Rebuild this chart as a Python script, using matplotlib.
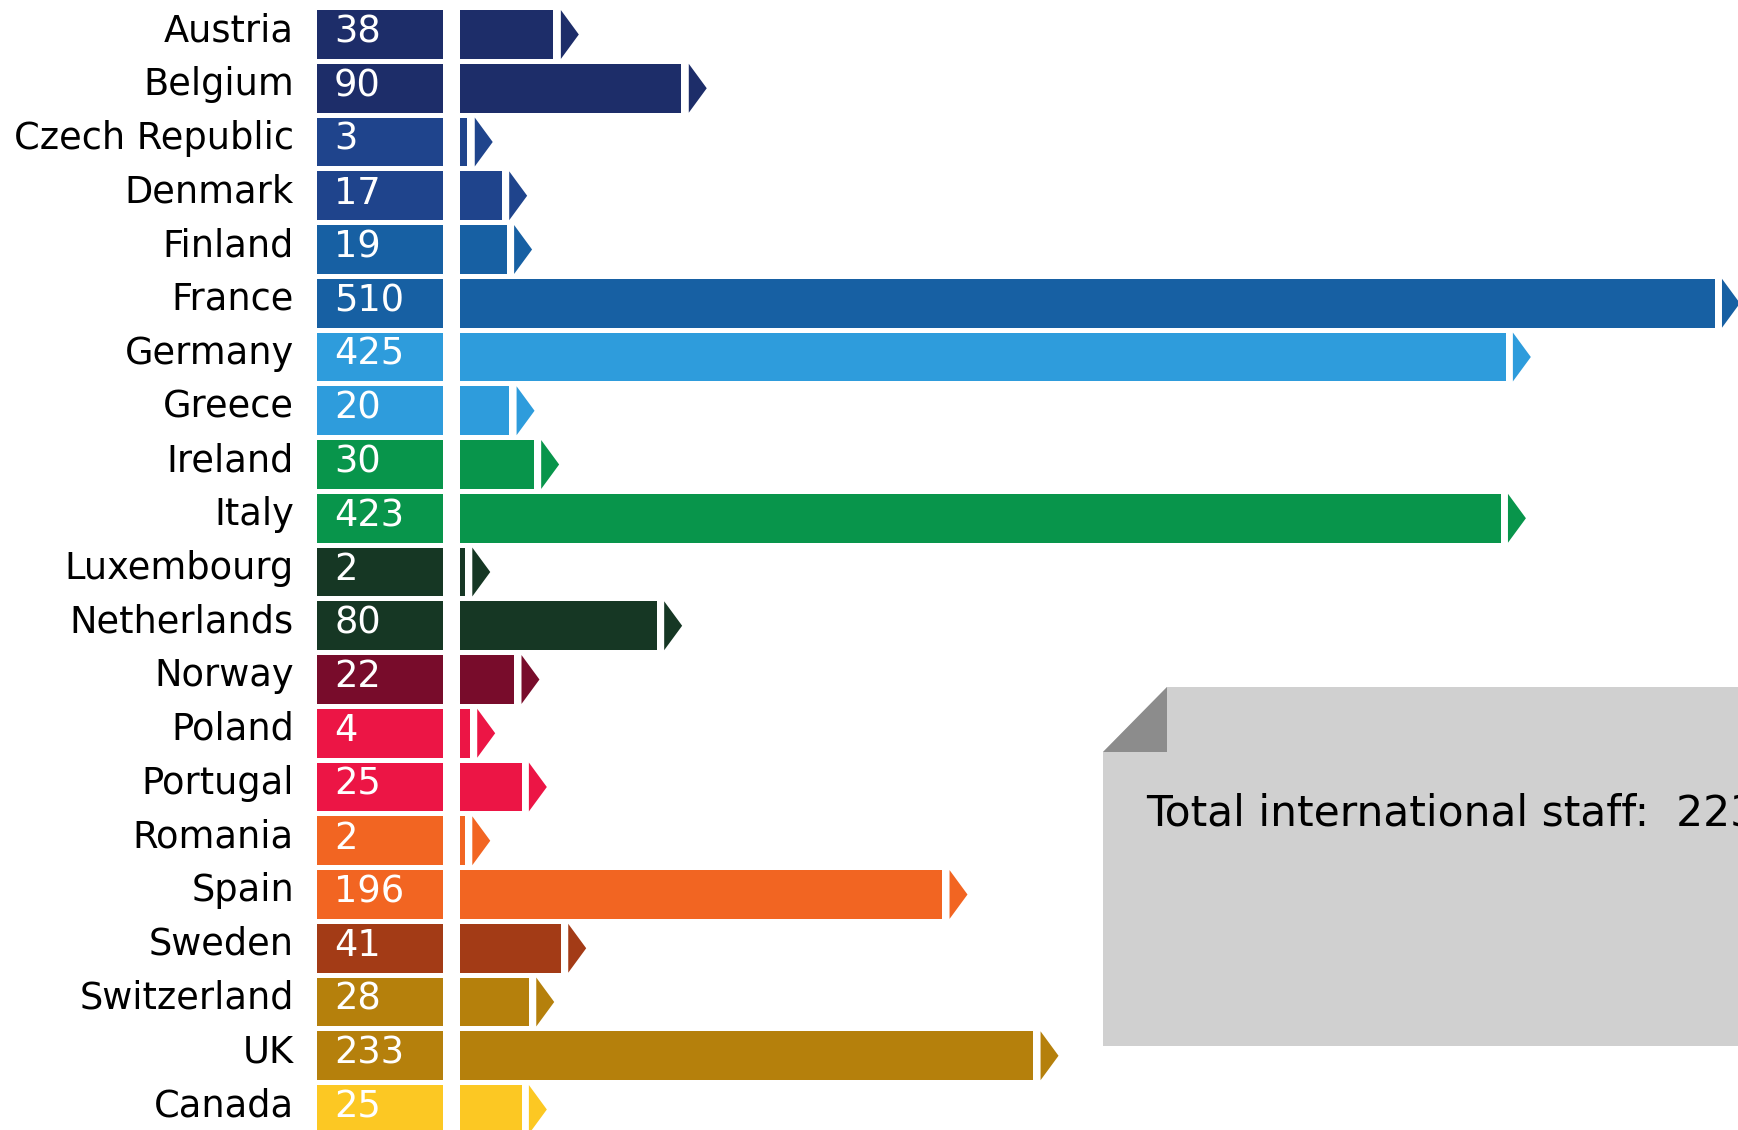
import matplotlib
matplotlib.use('Agg')
import matplotlib.pyplot as plt
from matplotlib.patches import Polygon

# Data
countries = ['Austria', 'Belgium', 'Czech Republic', 'Denmark', 'Finland', 'France',
             'Germany', 'Greece', 'Ireland', 'Italy', 'Luxembourg', 'Netherlands',
             'Norway', 'Poland', 'Portugal', 'Romania', 'Spain', 'Sweden',
             'Switzerland', 'UK', 'Canada']
staff = [38, 90, 3, 17, 19, 510, 425, 20, 30, 423, 2, 80, 22, 4, 25, 2, 196, 41, 28, 233, 25]
total_label = 'Total international staff:  %d' % sum(staff)

# Styling
bar_colors = ['#1d2d69', '#1d2d69', '#1f448c', '#1f448c', '#1760a3', '#1760a3',
              '#2e9cdc', '#2e9cdc', '#08954b', '#08954b', '#163724', '#163724',
              '#780c2b', '#ec1545', '#ec1545', '#f26522', '#f26522', '#a33b16',
              '#b5800c', '#b5800c', '#fcc823']

W, H = 1738, 1130
PX_PER_UNIT = 2.46      # pixels per staff member
ORIGIN_PX = 460         # pixel where bars start
ROW_PX = 53.75
FIRST_ROW_PX = 34.5
BAR_H = 0.91
BOX_LEFT, BOX_RIGHT = -58.1, -6.9
GAP, ARROW_W = 3.0, 7.3

fig = plt.figure(figsize=(W / 100, H / 100), dpi=100)
ax = fig.add_axes([0, 0, 1, 1])
ax.set_xlim(-ORIGIN_PX / PX_PER_UNIT, (W - ORIGIN_PX) / PX_PER_UNIT)
ax.set_ylim((H - FIRST_ROW_PX) / ROW_PX, -FIRST_ROW_PX / ROW_PX)
ax.axis('off')

rows = list(range(len(countries)))

# label boxes with the numbers
ax.barh(rows, BOX_RIGHT - BOX_LEFT, left=BOX_LEFT, height=BAR_H, color=bar_colors)
# value bars
ax.barh(rows, staff, height=BAR_H, color=bar_colors)

for i, (name, v, c) in enumerate(zip(countries, staff, bar_colors)):
    ax.text(-67.5, i - 0.07, name, ha='right', va='center', fontsize=26.5, color='black')
    ax.text(-51.2, i - 0.05, str(v), ha='left', va='center', fontsize=26.5, color='white')
    x0 = v + GAP
    tri = Polygon([(x0, i - BAR_H / 2), (x0 + ARROW_W, i), (x0, i + BAR_H / 2)],
                  closed=True, facecolor=c, edgecolor='none', clip_on=False)
    ax.add_patch(tri)

# note box with folded corner
fx0, fx1 = 1103 / W, 1167 / W
fy_top, fy_fold, fy_bot = 1 - 687 / H, 1 - 752 / H, 1 - 1046 / H
note = Polygon([(fx0, fy_fold), (fx1, fy_top), (1.02, fy_top), (1.02, fy_bot), (fx0, fy_bot)],
               closed=True, facecolor='#d0d0d0', edgecolor='none', transform=fig.transFigure)
fold = Polygon([(fx0, fy_fold), (fx1, fy_top), (fx1, fy_fold)],
               closed=True, facecolor='#8c8c8c', edgecolor='none', transform=fig.transFigure)
fig.patches.extend([note, fold])
fig.text(1146 / W, 1 - 826 / H, total_label, ha='left', va='baseline', fontsize=30.5,
         family='DejaVu Sans', color='black')

fig.savefig('out.png', dpi=100, facecolor='white')
